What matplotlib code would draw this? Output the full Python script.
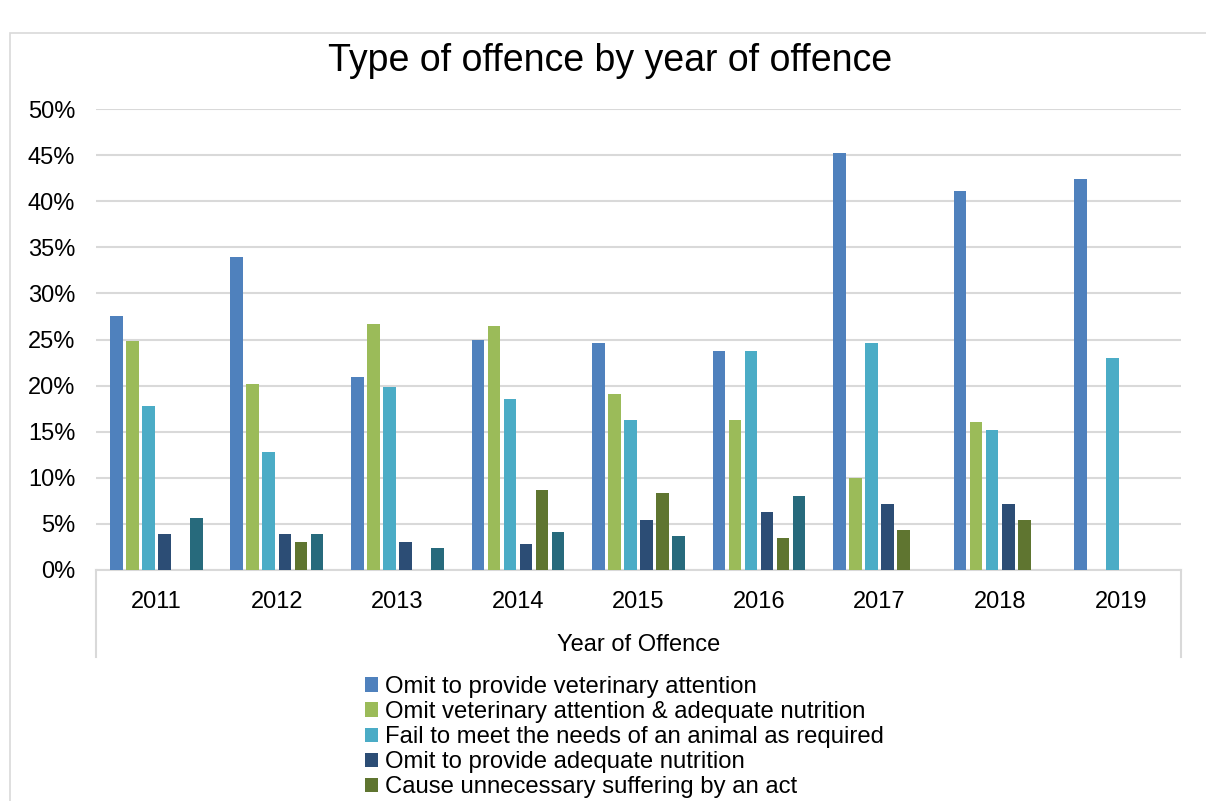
import numpy as np
import matplotlib
matplotlib.use("Agg")
import matplotlib.pyplot as plt
from matplotlib.patches import Rectangle
from matplotlib.ticker import PercentFormatter

plt.rcParams['font.family'] = ['Liberation Sans', 'DejaVu Sans']

years = ['2011', '2012', '2013', '2014', '2015', '2016', '2017', '2018', '2019']

series_names = [
    'Omit to provide veterinary attention',
    'Omit veterinary attention & adequate nutrition',
    'Fail to meet the needs of an animal as required',
    'Omit to provide adequate nutrition',
    'Cause unnecessary suffering by an act',
    'Other',
]

vet_attention = [27.6, 33.9, 20.9, 25.0, 24.6, 23.7, 45.2, 41.1, 42.4]
vet_and_nutrition = [24.8, 20.2, 26.7, 26.5, 19.1, 16.3, 10.0, 16.1, 0]
fail_needs = [17.8, 12.8, 19.8, 18.5, 16.3, 23.7, 24.6, 15.2, 23.0]
nutrition = [3.9, 3.9, 3.0, 2.8, 5.4, 6.3, 7.2, 7.2, 0]
suffering_act = [0, 3.0, 0, 8.7, 8.3, 3.5, 4.3, 5.4, 0]
other = [5.65, 3.9, 2.4, 4.1, 3.7, 8.0, 0, 0, 0]

colors = ['#4F81BD', '#9BBB59', '#4BACC6', '#2C4D75', '#5F7530', '#276A7C']

data = [vet_attention, vet_and_nutrition, fail_needs, nutrition, suffering_act, other]

fig = plt.figure(figsize=(12.06, 8.01), dpi=100)
ax = fig.add_axes([96 / 1206, 1 - 570 / 801, (1181 - 96) / 1206, (570 - 109) / 801])

# outer chart border (left and top only visible)
fig.patches.append(Rectangle((10 / 1206, -0.1), 1.2, 1.1 - 33 / 801, transform=fig.transFigure,
                             fill=False, edgecolor='#D9D9D9', linewidth=1.2))

x = np.arange(len(years))
pitch = 0.133
width = 0.105
handles = []
for i, (vals, c, name) in enumerate(zip(data, colors, series_names)):
    b = ax.bar(x + (i - 2.5) * pitch, np.array(vals) / 100, width=width, color=c, label=name, zorder=3)
    handles.append(b)

ax.set_xlim(-0.5, len(years) - 0.5)
ax.set_ylim(0, 0.5)
ax.set_yticks(np.arange(0, 0.51, 0.05))
ax.yaxis.set_major_formatter(PercentFormatter(1.0, decimals=0))
ax.grid(axis='y', color='#D9D9D9', linewidth=1.5, zorder=0)
ax.set_axisbelow(True)
for s in ['left', 'right', 'top']:
    ax.spines[s].set_visible(False)
ax.spines['bottom'].set_color('#D9D9D9')
ax.spines['bottom'].set_linewidth(1.5)
ax.tick_params(axis='both', length=0, labelsize=17, colors='black')
ax.tick_params(axis='y', pad=15)
ax.tick_params(axis='x', pad=15)
ax.set_xticks(x)
ax.set_xticklabels(years)

# category box sides
depth = (657 - 570) / (570 - 109)
for xe in (0, 1):
    ax.plot([xe, xe], [0, -depth], transform=ax.transAxes, color='#D9D9D9', linewidth=1.5, clip_on=False)

ax.set_xlabel('Year of Offence', fontsize=17, labelpad=15)

fig.text(610 / 1206, 1 - 61 / 801, 'Type of offence by year of offence',
         fontsize=27, ha='center', va='center')

leg = fig.legend(handles=handles[:5], labels=series_names[:5], loc='upper left',
                 bbox_to_anchor=(365 / 1206, 1 - 676 / 801), frameon=False, fontsize=17.2,
                 handlelength=0.55, handleheight=0.55, handletextpad=0.3, labelspacing=0.13,
                 borderpad=0, borderaxespad=0)

fig.savefig('out.png', dpi=100)
